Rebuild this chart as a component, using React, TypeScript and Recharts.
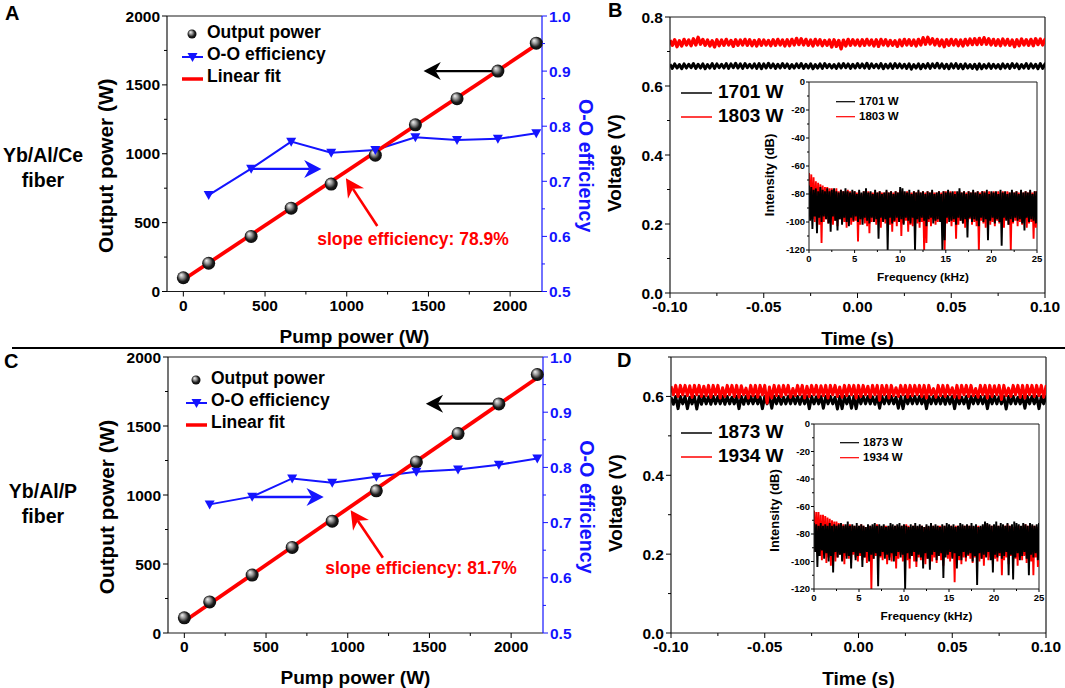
import {
  ComposedChart,
  LineChart,
  Line,
  XAxis,
  YAxis,
  ReferenceLine,
} from "recharts"

const FONT = "'Liberation Sans', Arial, sans-serif"
const BLUE = "#1414ff"
const RED = "#ff0000"
const INK = "#1a1a1a"

// panel A and C, shared pump power
const pump = [0, 155, 415, 660, 905, 1175, 1420, 1675, 1925, 2160]
const powerA = [100, 205, 400, 605, 780, 990, 1210, 1400, 1600, 1803]
const effA = [null, 0.675, 0.723, 0.772, 0.752, 0.757, 0.78, 0.775, 0.777, 0.787]
const fitA = [{ pump: 0, fit: 85 }, { pump: 2160, fit: 1790 }]
const powerC = [110, 225, 420, 620, 810, 1030, 1240, 1445, 1660, 1873]
const effC = [null, 0.733, 0.747, 0.78, 0.772, 0.783, 0.792, 0.796, 0.805, 0.816]
const fitC = [{ pump: 0, fit: 85 }, { pump: 2185, fit: 1870 }]

// panel B, voltage envelope in mV every 2.5 ms
const bRedHi = [
  733, 734, 731, 735, 733, 737, 741, 735, 733, 731,
  734, 733, 735, 732, 734, 733, 735, 734, 732, 734,
  733, 732, 734, 735, 733, 734, 735, 738, 737, 735,
  733, 735, 734, 732, 733, 734, 732, 733, 735, 734,
  733, 734, 735, 733, 734, 735, 734, 732, 731, 733,
  735, 734, 733, 735, 740, 741, 737, 735, 733, 734,
  735, 734, 733, 735, 736, 737, 738, 740, 737, 735,
  734, 736, 735, 733, 734, 736, 734, 735, 737, 736,
  735,
]
const bRedLo = [
  718, 714, 716, 719, 717, 719, 721, 718, 716, 713,
  717, 718, 719, 715, 718, 719, 718, 717, 716, 718,
  719, 717, 718, 719, 716, 717, 719, 720, 719, 718,
  716, 719, 717, 718, 713, 715, 708, 716, 718, 719,
  717, 718, 719, 716, 715, 719, 717, 718, 715, 717,
  719, 718, 716, 719, 721, 722, 719, 717, 714, 718,
  719, 717, 716, 719, 720, 720, 721, 721, 719, 718,
  717, 719, 718, 714, 717, 719, 718, 717, 720, 719,
  719,
]
const bBlackHi = [
  663, 664, 662, 664, 663, 665, 663, 664, 662, 665,
  664, 663, 665, 664, 666, 664, 665, 663, 664, 665,
  664, 666, 664, 663, 665, 664, 662, 664, 665, 663,
  664, 662, 664, 665, 663, 662, 664, 665, 664, 663,
  665, 664, 666, 664, 663, 665, 663, 664, 665, 664,
  663, 664, 662, 664, 663, 665, 664, 666, 664, 663,
  664, 665, 663, 664, 662, 663, 664, 662, 664, 663,
  662, 664, 663, 665, 664, 662, 665, 664, 663, 665,
  664,
]
const bBlackLo = [
  651, 652, 650, 652, 653, 651, 652, 650, 652, 651,
  653, 652, 651, 653, 652, 651, 653, 652, 651, 650,
  652, 653, 651, 652, 653, 651, 652, 653, 651, 652,
  650, 652, 651, 653, 652, 651, 652, 653, 651, 652,
  653, 652, 651, 653, 652, 650, 652, 651, 653, 652,
  651, 649, 652, 650, 652, 651, 653, 652, 651, 650,
  652, 651, 650, 652, 651, 649, 650, 652, 651, 652,
  650, 652, 651, 653, 650, 652, 651, 652, 650, 651,
  652,
]

// panel D, voltage envelope in mV every 2.5 ms
const dRedHi = [
  626, 628, 628, 628, 627, 628, 628, 626, 628, 628,
  628, 622, 628, 628, 628, 627, 621, 628, 628, 628,
  628, 624, 628, 627, 628, 628, 620, 628, 628, 626,
  628, 628, 627, 628, 628, 628, 624, 628, 628, 628,
  628, 628, 626, 628, 628, 628, 628, 628, 622, 628,
  628, 628, 628, 628, 628, 628, 620, 628, 628, 628,
  622, 628, 628, 628, 628, 620, 628, 628, 628, 627,
  628, 628, 621, 628, 628, 628, 628, 628, 628, 628,
  626,
]
const dRedLo = [
  604, 600, 604, 602, 598, 604, 600, 602, 598, 604,
  596, 600, 604, 600, 598, 604, 596, 602, 598, 604,
  583, 596, 602, 600, 604, 598, 602, 604, 596, 600,
  604, 598, 602, 596, 604, 600, 598, 602, 604, 596,
  600, 604, 598, 604, 590, 604, 596, 602, 600, 604,
  598, 602, 604, 600, 596, 604, 598, 602, 600, 604,
  598, 596, 604, 600, 602, 598, 604, 596, 600, 604,
  592, 602, 600, 604, 598, 596, 604, 600, 602, 598,
  604,
]
const dBlackHi = [
  598, 600, 600, 600, 598, 600, 600, 600, 599, 600,
  600, 600, 600, 598, 600, 600, 600, 600, 600, 599,
  600, 600, 600, 600, 598, 600, 600, 600, 600, 600,
  600, 599, 600, 600, 600, 598, 600, 600, 600, 600,
  600, 600, 600, 599, 600, 600, 600, 600, 598, 600,
  600, 600, 600, 600, 600, 600, 600, 599, 600, 600,
  600, 600, 598, 600, 600, 600, 600, 600, 600, 600,
  599, 600, 600, 600, 598, 600, 600, 600, 600, 600,
  600,
]
const dBlackLo = [
  580, 569, 581, 569, 581, 568, 580, 581, 580, 581,
  581, 580, 581, 581, 569, 580, 581, 581, 581, 569,
  581, 570, 581, 580, 581, 581, 581, 580, 581, 569,
  581, 581, 570, 581, 581, 568, 569, 581, 570, 569,
  581, 581, 581, 580, 570, 581, 581, 581, 570, 569,
  581, 581, 581, 581, 569, 581, 581, 581, 580, 581,
  569, 581, 581, 570, 581, 581, 581, 569, 581, 581,
  581, 568, 581, 581, 581, 570, 581, 581, 569, 581,
  580,
]

// insets, spectrum envelope in dB every 0.25 kHz
const bSpecRedHi = [
  -65, -66, -68, -71, -72, -73, -74, -75, -75, -76,
  -76, -77, -76, -78, -77, -78, -78, -77, -78, -79,
  -78, -79, -78, -80, -78, -79, -78, -79, -79, -78,
  -79, -78, -79, -79, -78, -79, -78, -79, -78, -79,
  -77, -78, -79, -78, -79, -79, -78, -79, -78, -79,
  -78, -79, -78, -79, -78, -79, -79, -78, -79, -78,
  -78, -79, -78, -79, -78, -79, -78, -79, -78, -79,
  -78, -79, -78, -79, -78, -79, -78, -78, -79, -78,
  -79, -78, -79, -78, -79, -78, -79, -78, -79, -78,
  -79, -78, -79, -78, -79, -78, -79, -78, -79, -78,
  -78,
]
const bSpecRedLo = [
  -96, -98, -100, -97, -102, -115, -100, -98, -101, -97,
  -102, -99, -103, -98, -101, -100, -104, -98, -102, -100,
  -99, -114, -102, -98, -101, -103, -108, -100, -97, -102,
  -100, -104, -99, -101, -98, -102, -107, -100, -103, -98,
  -110, -101, -99, -107, -102, -103, -99, -101, -104, -100,
  -120, -115, -100, -103, -98, -102, -100, -99, -104, -120,
  -101, -98, -103, -100, -112, -102, -99, -101, -104, -100,
  -98, -102, -100, -103, -120, -99, -101, -104, -98, -102,
  -100, -103, -99, -101, -100, -104, -98, -102, -120, -101,
  -99, -103, -100, -102, -98, -104, -101, -100, -112, -104,
  -101,
]
const bSpecBlackHi = [
  -74, -75, -77, -76, -78, -75, -77, -78, -76, -78,
  -77, -76, -78, -79, -77, -78, -76, -78, -79, -77,
  -78, -80, -77, -79, -78, -76, -79, -78, -80, -77,
  -79, -78, -80, -79, -77, -79, -78, -80, -78, -79,
  -75, -76, -78, -79, -77, -80, -78, -79, -77, -79,
  -78, -80, -78, -79, -77, -80, -79, -78, -80, -78,
  -79, -77, -79, -78, -80, -78, -76, -79, -78, -80,
  -78, -79, -77, -79, -78, -80, -78, -79, -77, -80,
  -78, -79, -78, -80, -77, -79, -78, -80, -79, -77,
  -79, -78, -80, -77, -79, -78, -79, -77, -80, -78,
  -78,
]
const bSpecBlackLo = [
  -99, -105, -96, -108, -97, -100, -96, -98, -101, -107,
  -96, -99, -106, -98, -102, -97, -100, -103, -97, -99,
  -96, -100, -98, -102, -97, -99, -101, -97, -100, -98,
  -112, -97, -100, -98, -120, -97, -101, -99, -97, -100,
  -98, -102, -97, -99, -101, -97, -120, -98, -100, -97,
  -99, -103, -98, -97, -101, -99, -98, -100, -120, -113,
  -97, -100, -99, -98, -102, -97, -99, -101, -98, -111,
  -97, -100, -98, -99, -103, -97, -100, -98, -113, -99,
  -97, -101, -98, -100, -117, -97, -99, -102, -98, -100,
  -97, -99, -98, -101, -106, -97, -100, -98, -99, -101,
  -97,
]
const dSpecRedHi = [
  -63, -64, -64, -66, -66, -67, -68, -69, -70, -71,
  -71, -72, -73, -73, -74, -74, -73, -74, -74, -75,
  -74, -73, -74, -75, -74, -74, -75, -74, -73, -74,
  -75, -74, -74, -75, -74, -75, -74, -74, -75, -74,
  -74, -73, -74, -75, -74, -74, -75, -74, -74, -75,
  -74, -75, -74, -74, -75, -74, -74, -75, -74, -75,
  -74, -74, -75, -74, -74, -75, -74, -74, -75, -74,
  -74, -75, -74, -74, -75, -74, -74, -73, -74, -74,
  -75, -74, -74, -75, -74, -74, -73, -74, -74, -75,
  -74, -74, -75, -74, -73, -74, -75, -74, -74, -75,
  -74,
]
const dSpecRedLo = [
  -92, -94, -96, -99, -95, -101, -97, -103, -95, -100,
  -97, -95, -99, -102, -96, -98, -101, -95, -97, -100,
  -96, -99, -97, -101, -95, -120, -98, -96, -100, -97,
  -99, -95, -102, -97, -100, -96, -105, -98, -95, -100,
  -97, -99, -105, -96, -100, -104, -97, -99, -96, -102,
  -98, -95, -100, -97, -101, -96, -99, -103, -95, -98,
  -100, -97, -115, -96, -99, -102, -97, -100, -96, -98,
  -101, -97, -95, -100, -98, -103, -96, -99, -97, -102,
  -98, -100, -96, -110, -99, -97, -102, -96, -100, -98,
  -103, -97, -99, -96, -101, -98, -100, -110, -97, -104,
  -112,
]
const dSpecBlackHi = [
  -72, -73, -74, -72, -74, -73, -74, -72, -74, -73,
  -74, -73, -72, -74, -73, -71, -74, -73, -74, -72,
  -74, -73, -74, -75, -73, -74, -73, -72, -74, -73,
  -74, -73, -75, -74, -72, -73, -74, -73, -72, -74,
  -73, -74, -75, -73, -74, -72, -74, -73, -74, -75,
  -73, -74, -72, -74, -73, -74, -75, -73, -74, -72,
  -73, -74, -73, -75, -74, -72, -73, -74, -73, -74,
  -72, -74, -73, -75, -74, -73, -71, -72, -73, -74,
  -73, -71, -74, -72, -73, -74, -72, -74, -73, -71,
  -72, -73, -74, -72, -73, -74, -72, -73, -74, -73,
  -72,
]
const dSpecBlackLo = [
  -93, -104, -96, -92, -98, -94, -100, -96, -108, -93,
  -97, -95, -100, -94, -98, -96, -105, -93, -99, -96,
  -94, -104, -97, -93, -100, -95, -98, -94, -118, -96,
  -93, -98, -95, -99, -94, -100, -96, -93, -97, -95,
  -120, -94, -98, -96, -93, -100, -95, -97, -105, -94,
  -98, -106, -95, -93, -99, -96, -94, -112, -97, -95,
  -93, -98, -94, -105, -96, -99, -93, -97, -95, -94,
  -100, -96, -117, -94, -98, -95, -97, -93, -99, -108,
  -95, -97, -94, -98, -96, -93, -110, -95, -113, -97,
  -94, -99, -96, -93, -98, -110, -95, -97, -94, -99,
  -105,
]

const rowsA = pump.map((p, i) => ({ pump: p, power: powerA[i], eff: effA[i] }))
const rowsC = pump.map((p, i) => ({ pump: p, power: powerC[i], eff: effC[i] }))

// one sweep per bin: top of the envelope, then bottom
const zigzag = (start: number, step: number, hi: number[], lo: number[], scale: number) =>
  hi.flatMap((h, i) => [
    { x: start + i * step, y: h * scale },
    { x: start + (i + 0.5) * step, y: lo[i] * scale },
  ])

const range = (from: number, to: number, step: number) => {
  const out: number[] = []
  const n = Math.round((to - from) / step)
  for (let i = 0; i <= n; i++) out.push(+(from + i * step).toFixed(4))
  return out
}

type TickOpts = {
  side: "left" | "right" | "bottom"
  every: number
  digits: number
  size: number
  major: number
  minor: number
  gap: number
  color?: string
}

// axis tick with long major marks and short unlabelled minor marks
const makeTick = ({ side, every, digits, size, major, minor, gap, color = "#000" }: TickOpts) => (props: any) => {
  const { x, y, payload } = props
  const v = payload.value
  const isMajor = Math.abs(v / every - Math.round(v / every)) < 1e-6
  const len = isMajor ? major : minor
  const label = isMajor ? v.toFixed(digits) : ""
  const line =
    side === "bottom"
      ? { x1: x, y1: y, x2: x, y2: y + len }
      : { x1: x, y1: y, x2: side === "left" ? x - len : x + len, y2: y }
  const text =
    side === "bottom"
      ? { x, y: y + gap + size * 0.72, textAnchor: "middle" as const }
      : side === "left"
        ? { x: x - gap, y: y + size * 0.36, textAnchor: "end" as const }
        : { x: x + gap, y: y + size * 0.36, textAnchor: "start" as const }
  return (
    <g key={`${side}-${v}`}>
      <line {...line} stroke={color} strokeWidth={1} />
      <text {...text} fontFamily={FONT} fontWeight={700} fontSize={size} fill={color}>{label}</text>
    </g>
  )
}

const Arrow = (color: string, width: number, head: number) => (props: any) => {
  const { x1, y1, x2, y2 } = props
  const a = Math.atan2(y2 - y1, x2 - x1)
  const lx = x2 - Math.cos(a) * head * 0.8
  const ly = y2 - Math.sin(a) * head * 0.8
  const bx = x2 - Math.cos(a) * head * 1.15
  const by = y2 - Math.sin(a) * head * 1.15
  const nx = -Math.sin(a) * head * 0.6
  const ny = Math.cos(a) * head * 0.6
  return (
    <g>
      <line x1={x1} y1={y1} x2={lx} y2={ly} stroke={color} strokeWidth={width} />
      <polygon points={`${x2},${y2} ${bx + nx},${by + ny} ${lx},${ly} ${bx - nx},${by - ny}`} fill={color} />
    </g>
  )
}

const Ball = (props: any) => {
  const { cx, cy, index } = props
  if (cx == null || cy == null) return <g key={index} />
  return <circle key={index} cx={cx} cy={cy} r={6.5} fill="url(#ball)" />
}

const Tri = (props: any) => {
  const { cx, cy, index } = props
  if (cx == null || cy == null) return <g key={index} />
  return <polygon key={index} points={`${cx - 5},${cy - 4} ${cx + 5},${cy - 4} ${cx},${cy + 5}`} fill={BLUE} />
}

const place = (l: number, t: number, r: number, b: number, pl: number, pt: number, pr: number, pb: number) => ({
  style: { position: "absolute" as const, left: l - pl, top: t - pt },
  width: r - l + pl + pr,
  height: b - t + pt + pb,
})

type PowerProps = {
  box: number[]
  rows: any[]
  fit: any[]
  black: number[][]
  blue: number[][]
  red: number[][]
}

function PowerPanel({ box, rows, fit, black, blue, red }: PowerProps) {
  const [l, t, r, b] = box
  const p = place(l, t, r, b, 75, 10, 60, 60)
  return (
    <div style={p.style}>
      <ComposedChart width={p.width} height={p.height} data={rows} margin={{ top: 10, right: 0, bottom: 0, left: 0 }}>
        <XAxis
          type="number"
          dataKey="pump"
          domain={[-100, 2195]}
          ticks={range(0, 2000, 250)}
          interval={0}
          height={60}
          tickSize={0}
          tickMargin={0}
          tickLine={false}
          tick={makeTick({ side: "bottom", every: 500, digits: 0, size: 15.5, major: 5, minor: 3, gap: 8 })}
          stroke={INK}
          strokeWidth={1.2}
          label={{ value: "Pump power (W)", position: "insideBottom", offset: 9, style: { fontFamily: FONT, fontWeight: 700, fontSize: 19, fill: "#000" } }}
        />
        <YAxis
          yAxisId="left"
          domain={[0, 2000]}
          ticks={range(0, 2000, 250)}
          interval={0}
          width={75}
          tickSize={0}
          tickMargin={0}
          tickLine={false}
          tick={makeTick({ side: "left", every: 500, digits: 0, size: 15.5, major: 5, minor: 3, gap: 7 })}
          stroke={INK}
          strokeWidth={1.2}
          label={{ value: "Output power (W)", angle: -90, position: "insideLeft", offset: 14, dy: 12, style: { textAnchor: "middle", fontFamily: FONT, fontWeight: 700, fontSize: 20.8, fill: "#000" } }}
        />
        <YAxis
          yAxisId="right"
          orientation="right"
          domain={[0.5, 1]}
          ticks={range(0.5, 1, 0.05)}
          interval={0}
          width={60}
          tickSize={0}
          tickMargin={0}
          tickLine={false}
          tick={makeTick({ side: "right", every: 0.1, digits: 1, size: 15.5, major: 5, minor: 3, gap: 7, color: BLUE })}
          stroke={BLUE}
          strokeWidth={1.2}
          label={{ value: "O-O efficiency", angle: 90, position: "insideRight", offset: 16, dy: 12, style: { textAnchor: "middle", fontFamily: FONT, fontWeight: 700, fontSize: 19.7, fill: BLUE } }}
        />
        <ReferenceLine yAxisId="left" y={2000} stroke={INK} strokeWidth={1.2} />
        <ReferenceLine
          yAxisId="left"
          segment={[{ x: black[0][0], y: black[0][1] }, { x: black[1][0], y: black[1][1] }]}
          shape={Arrow("#000", 2.4, 15)}
        />
        <ReferenceLine
          yAxisId="left"
          segment={[{ x: blue[0][0], y: blue[0][1] }, { x: blue[1][0], y: blue[1][1] }]}
          shape={Arrow(BLUE, 2.4, 15)}
        />
        <ReferenceLine
          yAxisId="left"
          segment={[{ x: red[0][0], y: red[0][1] }, { x: red[1][0], y: red[1][1] }]}
          shape={Arrow(RED, 2.6, 16)}
        />
        <Line yAxisId="left" dataKey="power" stroke="none" dot={Ball} legendType="none" isAnimationActive={false} />
        <Line yAxisId="right" dataKey="eff" stroke={BLUE} strokeWidth={2} dot={Tri} isAnimationActive={false} />
        <Line yAxisId="left" data={fit} dataKey="fit" stroke={RED} strokeWidth={3.8} dot={false} isAnimationActive={false} />
      </ComposedChart>
    </div>
  )
}

type TraceProps = {
  box: number[]
  top: number
  yTicks: number[]
  first: { hi: number[]; lo: number[]; color: string; width: number }
  second: { hi: number[]; lo: number[]; color: string; width: number }
}

function TracePanel({ box, top, yTicks, first, second }: TraceProps) {
  const [l, t, r, b] = box
  const p = place(l, t, r, b, 70, 10, 20, 60)
  return (
    <div style={p.style}>
      <LineChart width={p.width} height={p.height} margin={{ top: 10, right: 20, bottom: 0, left: 0 }}>
        <XAxis
          type="number"
          dataKey="x"
          domain={[-0.1, 0.1]}
          ticks={range(-0.1, 0.1, 0.025)}
          interval={0}
          height={60}
          allowDataOverflow
          tickSize={0}
          tickMargin={0}
          tickLine={false}
          tick={makeTick({ side: "bottom", every: 0.05, digits: 2, size: 15.5, major: 5, minor: 3, gap: 8 })}
          stroke={INK}
          strokeWidth={1.2}
          label={{ value: "Time (s)", position: "insideBottom", offset: 8, style: { fontFamily: FONT, fontWeight: 700, fontSize: 19, fill: "#000" } }}
        />
        <YAxis
          type="number"
          domain={[0, top]}
          ticks={yTicks}
          interval={0}
          width={70}
          allowDataOverflow
          tickSize={0}
          tickMargin={0}
          tickLine={false}
          tick={makeTick({ side: "left", every: 0.2, digits: 1, size: 15.5, major: 5, minor: 3, gap: 7 })}
          stroke={INK}
          strokeWidth={1.2}
          label={{ value: "Voltage (V)", angle: -90, position: "insideLeft", offset: 14, dy: 8, style: { textAnchor: "middle", fontFamily: FONT, fontWeight: 700, fontSize: 19, fill: "#000" } }}
        />
        <ReferenceLine y={top} stroke={INK} strokeWidth={1.2} />
        <ReferenceLine x={0.1} stroke={INK} strokeWidth={1.2} />
        <Line data={zigzag(-0.1, 0.0025, first.hi, first.lo, 0.001)} dataKey="y" stroke={first.color} strokeWidth={first.width} strokeLinejoin="round" dot={false} isAnimationActive={false} />
        <Line data={zigzag(-0.1, 0.0025, second.hi, second.lo, 0.001)} dataKey="y" stroke={second.color} strokeWidth={second.width} strokeLinejoin="round" dot={false} isAnimationActive={false} />
      </LineChart>
    </div>
  )
}

type InsetProps = {
  box: number[]
  titleDy: number
  redHi: number[]
  redLo: number[]
  blackHi: number[]
  blackLo: number[]
}

function SpectrumInset({ box, titleDy, redHi, redLo, blackHi, blackLo }: InsetProps) {
  const [l, t, r, b] = box
  const p = place(l, t, r, b, 50, 10, 12, 40)
  return (
    <div style={p.style}>
      <LineChart width={p.width} height={p.height} margin={{ top: 10, right: 12, bottom: 0, left: 0 }}>
        <XAxis
          type="number"
          dataKey="x"
          domain={[0, 25]}
          ticks={range(0, 25, 2.5)}
          interval={0}
          height={40}
          allowDataOverflow
          tickSize={0}
          tickMargin={0}
          tickLine={false}
          tick={makeTick({ side: "bottom", every: 5, digits: 0, size: 9.5, major: 3, minor: 2, gap: 5 })}
          stroke={INK}
          strokeWidth={1}
          label={{ value: "Frequency (kHz)", position: "insideBottom", offset: 9, style: { fontFamily: FONT, fontWeight: 700, fontSize: 11.8, fill: "#000" } }}
        />
        <YAxis
          type="number"
          domain={[-120, 0]}
          ticks={range(-120, 0, 10)}
          interval={0}
          width={50}
          allowDataOverflow
          tickSize={0}
          tickMargin={0}
          tickLine={false}
          tick={makeTick({ side: "left", every: 20, digits: 0, size: 9.5, major: 3, minor: 2, gap: 4 })}
          stroke={INK}
          strokeWidth={1}
          label={{ value: "Intensity (dB)", angle: -90, position: "insideLeft", offset: 10, dy: titleDy, style: { textAnchor: "middle", fontFamily: FONT, fontWeight: 700, fontSize: 12.9, fill: "#000" } }}
        />
        <ReferenceLine y={0} stroke={INK} strokeWidth={1} />
        <ReferenceLine x={25} stroke={INK} strokeWidth={1} />
        <Line data={zigzag(0, 0.25, redHi, redLo, 1)} dataKey="y" stroke={RED} strokeWidth={1.9} dot={false} isAnimationActive={false} />
        <Line data={zigzag(0, 0.25, blackHi, blackLo, 1)} dataKey="y" stroke="#000" strokeWidth={1.9} dot={false} isAnimationActive={false} />
      </LineChart>
    </div>
  )
}

const T = ({ x, y, size, anchor = "start", fill = "#000", children }: any) => (
  <text x={x} y={y + size * 0.36} fontFamily={FONT} fontWeight={700} fontSize={size} textAnchor={anchor} fill={fill}>
    {children}
  </text>
)

function PowerLegend({ x, y }: { x: number; y: number }) {
  return (
    <g>
      <circle cx={x + 10} cy={y + 2} r={4.5} fill="url(#ball)" />
      <T x={x + 25} y={y} size={17.5}>Output power</T>
      <line x1={x} y1={y + 25} x2={x + 21} y2={y + 25} stroke={BLUE} strokeWidth={2} />
      <polygon points={`${x + 5.5},${y + 21} ${x + 15.5},${y + 21} ${x + 10.5},${y + 30}`} fill={BLUE} />
      <T x={x + 25} y={y + 22} size={17.5}>O-O efficiency</T>
      <line x1={x} y1={y + 47} x2={x + 21} y2={y + 47} stroke={RED} strokeWidth={3.5} />
      <T x={x + 25} y={y + 44} size={17.5}>Linear fit</T>
    </g>
  )
}

function TraceLegend({ x, y, a, b }: { x: number; y: number; a: string; b: string }) {
  return (
    <g>
      <line x1={x} y1={y + 2} x2={x + 31} y2={y + 2} stroke="#000" strokeWidth={1.5} />
      <T x={x + 37} y={y} size={19}>{a}</T>
      <line x1={x} y1={y + 26} x2={x + 31} y2={y + 26} stroke={RED} strokeWidth={1.5} />
      <T x={x + 37} y={y + 24} size={19}>{b}</T>
    </g>
  )
}

function InsetLegend({ x, y, a, b }: { x: number; y: number; a: string; b: string }) {
  return (
    <g>
      <line x1={x} y1={y + 0.7} x2={x + 19} y2={y + 0.7} stroke="#000" strokeWidth={1.2} />
      <T x={x + 23} y={y} size={11.5}>{a}</T>
      <line x1={x} y1={y + 15.7} x2={x + 19} y2={y + 15.7} stroke={RED} strokeWidth={1.2} />
      <T x={x + 23} y={y + 15} size={11.5}>{b}</T>
    </g>
  )
}

export default function App() {
  return (
    <div style={{ position: "absolute", left: 0, top: 0, width: 1065, height: 688, overflow: "hidden", background: "#fff" }}>
      <PowerPanel
        box={[166.5, 16, 541.5, 291.5]}
        rows={rowsA}
        fit={fitA}
        black={[[1890, 1600], [1470, 1600]]}
        blue={[[415, 890], [845, 890]]}
        red={[[1187, 475], [995, 823]]}
      />
      <PowerPanel
        box={[167.5, 357, 542.5, 633]}
        rows={rowsC}
        fit={fitC}
        black={[[1923, 1662], [1478, 1662]]}
        blue={[[413, 985], [853, 985]]}
        red={[[1215, 545], [1018, 890]]}
      />
      <TracePanel
        box={[670, 16.5, 1045, 292.5]}
        top={0.8}
        yTicks={range(0, 0.8, 0.1)}
        first={{ hi: bRedHi, lo: bRedLo, color: RED, width: 3.4 }}
        second={{ hi: bBlackHi, lo: bBlackLo, color: "#000", width: 3 }}
      />
      <TracePanel
        box={[671, 356.5, 1046, 632.5]}
        top={0.7}
        yTicks={range(0, 0.7, 0.1)}
        first={{ hi: dBlackHi, lo: dBlackLo, color: "#000", width: 3 }}
        second={{ hi: dRedHi, lo: dRedLo, color: RED, width: 3 }}
      />
      <SpectrumInset box={[808.5, 81.5, 1036.5, 249.5]} titleDy={9} redHi={bSpecRedHi} redLo={bSpecRedLo} blackHi={bSpecBlackHi} blackLo={bSpecBlackLo} />
      <SpectrumInset box={[813.5, 423.5, 1038.5, 588.5]} titleDy={4} redHi={dSpecRedHi} redLo={dSpecRedLo} blackHi={dSpecBlackHi} blackLo={dSpecBlackLo} />
      <svg width={1065} height={688} style={{ position: "absolute", left: 0, top: 0, pointerEvents: "none" }}>
        <defs>
          <radialGradient id="ball" cx="0.5" cy="0.5" r="0.62" fx="0.32" fy="0.28">
            <stop offset="0" stopColor="#f4f4f4" />
            <stop offset="0.3" stopColor="#9a9a9a" />
            <stop offset="0.62" stopColor="#1c1c1c" />
            <stop offset="1" stopColor="#000" />
          </radialGradient>
        </defs>
        <line x1={12} y1={348} x2={1065} y2={348} stroke="#000" strokeWidth={2} />

        <T x={5} y={13} size={20}>A</T>
        <T x={608} y={10} size={20}>B</T>
        <T x={4} y={361} size={20}>C</T>
        <T x={617} y={360} size={20}>D</T>

        <T x={43} y={155} size={19.5} anchor="middle">Yb/Al/Ce</T>
        <T x={43} y={180} size={19.5} anchor="middle">fiber</T>
        <T x={43} y={491} size={19.5} anchor="middle">Yb/Al/P</T>
        <T x={43} y={516} size={19.5} anchor="middle">fiber</T>

        <T x={413} y={239} size={17.5} anchor="middle" fill={RED}>slope efficiency: 78.9%</T>
        <T x={421} y={568} size={17.5} anchor="middle" fill={RED}>slope efficiency: 81.7%</T>

        <PowerLegend x={182} y={32} />
        <PowerLegend x={186} y={378} />
        <TraceLegend x={681} y={91} a="1701 W" b="1803 W" />
        <TraceLegend x={681} y={431} a="1873 W" b="1934 W" />
        <InsetLegend x={836} y={101} a="1701 W" b="1803 W" />
        <InsetLegend x={840} y={442} a="1873 W" b="1934 W" />
      </svg>
    </div>
  )
}
